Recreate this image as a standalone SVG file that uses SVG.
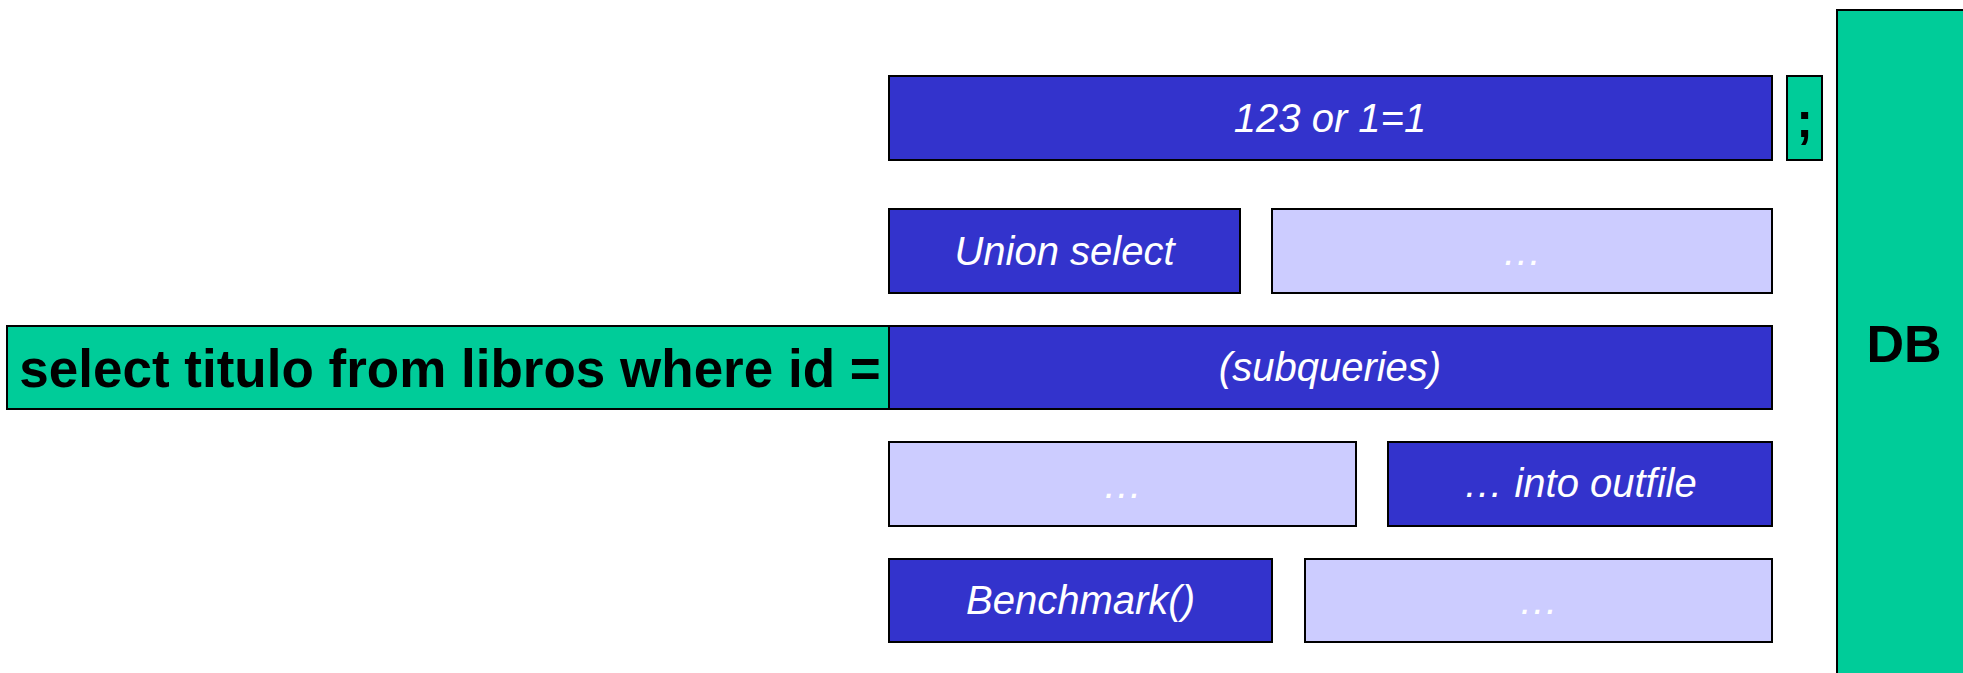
<svg xmlns="http://www.w3.org/2000/svg" width="1963" height="673" viewBox="0 0 1963 673">
  <style>
    .box { stroke: #000000; stroke-width: 2; }
    .green { fill: #00CC99; }
    .blue { fill: #3333CC; }
    .pale { fill: #CCCCFF; }
    .lbl { font-family: "Liberation Sans", Arial, sans-serif; font-size: 40px; font-style: italic; fill: #FFFFFF; text-anchor: middle; }
    .bold { font-family: "Liberation Sans", Arial, sans-serif; font-weight: bold; fill: #000000; text-anchor: middle; }
  </style>

  <rect width="1963" height="673" fill="#FFFFFF"/>

  <!-- database column on the right -->
  <g id="db">
    <rect class="box green" x="1837" y="10" width="200" height="700"/>
    <text class="bold" x="1904" y="362" font-size="52">DB</text>
  </g>

  <!-- base query -->
  <g id="query">
    <rect class="box green" x="7" y="326" width="882" height="83"/>
    <text class="bold" x="450" y="387" font-size="53">select titulo from libros where id =</text>
  </g>

  <!-- row 1 -->
  <g id="or-true">
    <rect class="box blue" x="889" y="76" width="883" height="84"/>
    <text class="lbl" x="1330" y="132">123 or 1=1</text>
  </g>
  <g id="semicolon">
    <rect class="box green" x="1787" y="76" width="35" height="84"/>
    <text class="bold" x="1804.5" y="137" font-size="50">;</text>
  </g>

  <!-- row 2 -->
  <g id="union-select">
    <rect class="box blue" x="889" y="209" width="351" height="84"/>
    <text class="lbl" x="1064.5" y="265">Union select</text>
  </g>
  <g id="union-more">
    <rect class="box pale" x="1272" y="209" width="500" height="84"/>
    <text class="lbl" x="1522" y="265">…</text>
  </g>

  <!-- row 3 -->
  <g id="subqueries">
    <rect class="box blue" x="889" y="326" width="883" height="83"/>
    <text class="lbl" x="1330" y="381">(subqueries)</text>
  </g>

  <!-- row 4 -->
  <g id="outfile-more">
    <rect class="box pale" x="889" y="442" width="467" height="84"/>
    <text class="lbl" x="1122.5" y="498">…</text>
  </g>
  <g id="into-outfile">
    <rect class="box blue" x="1388" y="442" width="384" height="84"/>
    <text class="lbl" x="1580" y="497">… into outfile</text>
  </g>

  <!-- row 5 -->
  <g id="benchmark">
    <rect class="box blue" x="889" y="559" width="383" height="83"/>
    <text class="lbl" x="1080.5" y="614">Benchmark()</text>
  </g>
  <g id="benchmark-more">
    <rect class="box pale" x="1305" y="559" width="467" height="83"/>
    <text class="lbl" x="1538.5" y="614">…</text>
  </g>
</svg>
